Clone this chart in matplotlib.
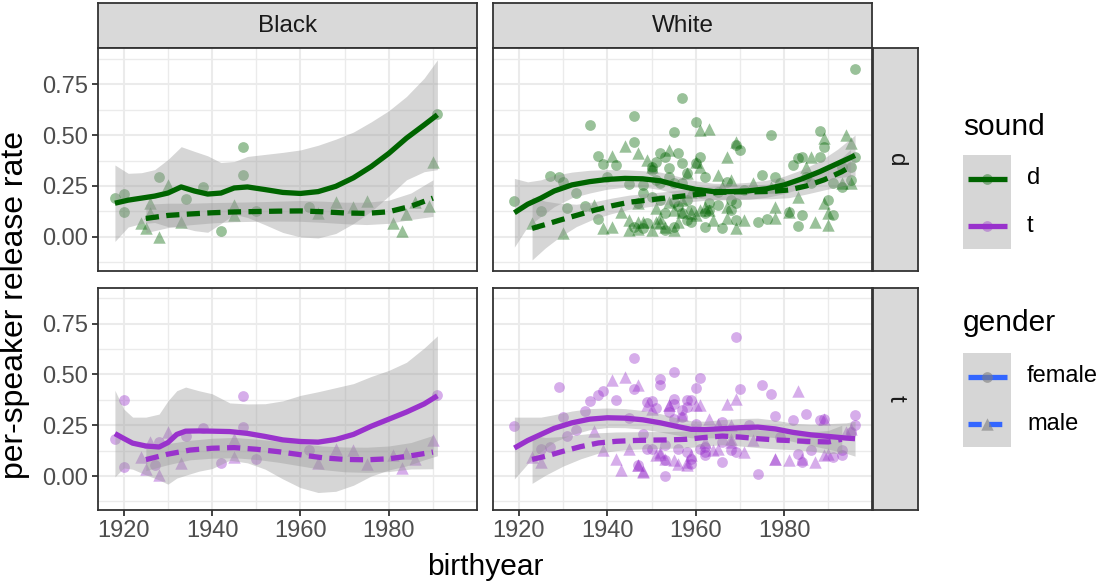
import matplotlib
matplotlib.use("Agg")
import matplotlib.pyplot as plt
import numpy as np

plt.rcParams['font.family'] = ['Liberation Sans', 'DejaVu Sans']

races = ["Black", "White"]
sounds = ["d", "t"]
genders = ["female", "male"]
sound_colors = {"d": "#006400", "t": "#9932CC"}
x_ticks = [1920, 1940, 1960, 1980]
y_ticks = [0.00, 0.25, 0.50, 0.75]

# per-speaker points
black_d_female_year = [1918, 1920, 1920, 1928, 1934, 1938, 1942, 1947, 1947, 1950, 1962, 1991]
black_d_female_rate = [0.189, 0.210, 0.123, 0.295, 0.184, 0.246, 0.028, 0.440, 0.304, 0.126, 0.148, 0.604]
black_d_male_year = [1924, 1925, 1926, 1926, 1928, 1930, 1933, 1945, 1945, 1964, 1968, 1972, 1975, 1981, 1983, 1984, 1986, 1989, 1990]
black_d_male_rate = [0.069, 0.041, 0.164, 0.115, 0.000, 0.254, 0.074, 0.156, 0.107, 0.118, 0.169, 0.145, 0.177, 0.066, 0.028, 0.112, 0.169, 0.151, 0.369]

black_t_female_year = [1918, 1920, 1920, 1928, 1927, 1934, 1938, 1942, 1947, 1947, 1950, 1962, 1991]
black_t_female_rate = [0.184, 0.373, 0.044, 0.167, 0.053, 0.197, 0.236, 0.064, 0.394, 0.241, 0.086, 0.126, 0.397]
black_t_male_year = [1924, 1925, 1926, 1928, 1930, 1933, 1945, 1945, 1964, 1968, 1972, 1975, 1981, 1983, 1984, 1986, 1990]
black_t_male_rate = [0.094, 0.036, 0.167, 0.007, 0.217, 0.066, 0.181, 0.094, 0.066, 0.135, 0.126, 0.061, 0.102, 0.039, 0.115, 0.086, 0.176]

white_d_female_year = [1919, 1925, 1927, 1929, 1930, 1931, 1933, 1935, 1936, 1938, 1938, 1939, 1940, 1942, 1945, 1946, 1946, 1947, 1948, 1949,
                       1950, 1950, 1951, 1952, 1952, 1953, 1953, 1954, 1955, 1955, 1955, 1956, 1956, 1957, 1957, 1957, 1958, 1958, 1959, 1959,
                       1960, 1960, 1961, 1961, 1962, 1962, 1963, 1965, 1966, 1967, 1968, 1969, 1969, 1970, 1971, 1974, 1975, 1976, 1977, 1978,
                       1979, 1981, 1982, 1983, 1983, 1984, 1984, 1985, 1986, 1988, 1988, 1989, 1990, 1991, 1991, 1993, 1993, 1995, 1995, 1996, 1996,
                       1951, 1950, 1954, 1952, 1948, 1955, 1957, 1958, 1953, 1948, 1946, 1962, 1968, 1969, 1965, 1963]
white_d_female_rate = [0.177, 0.128, 0.299, 0.292, 0.271, 0.139, 0.217, 0.151, 0.548, 0.397, 0.085, 0.358, 0.296, 0.353, 0.259, 0.594, 0.468, 0.164, 0.213, 0.066,
                       0.328, 0.197, 0.279, 0.410, 0.181, 0.394, 0.115, 0.337, 0.263, 0.517, 0.049, 0.151, 0.413, 0.361, 0.681, 0.263, 0.312, 0.181, 0.131, 0.074,
                       0.566, 0.364, 0.222, 0.394, 0.296, 0.115, 0.164, 0.222, 0.041, 0.271, 0.181, 0.164, 0.451, 0.427, 0.230, 0.074, 0.304, 0.085, 0.501, 0.296,
                       0.263, 0.123, 0.353, 0.386, 0.053, 0.107, 0.394, 0.296, 0.263, 0.522, 0.394, 0.443, 0.181, 0.107, 0.263, 0.246, 0.345, 0.279, 0.345, 0.827, 0.394,
                       0.369, 0.345, 0.295, 0.262, 0.254, 0.172, 0.115, 0.082, 0.033, 0.041, 0.049, 0.049, 0.131, 0.082, 0.156, 0.131]
white_d_male_year = [1923, 1930, 1937, 1939, 1941, 1941, 1943, 1944, 1945, 1945, 1947, 1947, 1948, 1949, 1950, 1951, 1951, 1952, 1953, 1954,
                     1954, 1955, 1956, 1957, 1957, 1958, 1959, 1959, 1961, 1961, 1962, 1963, 1963, 1964, 1965, 1966, 1967, 1967, 1968, 1969,
                     1969, 1971, 1973, 1977, 1978, 1978, 1981, 1983, 1985, 1986, 1987, 1989, 1989, 1990, 1990, 1993, 1994, 1995, 1995,
                     1960, 1947, 1947, 1952, 1950, 1955, 1960, 1961, 1967]
white_d_male_rate = [0.066, 0.020, 0.156, 0.041, 0.049, 0.397, 0.123, 0.446, 0.082, 0.033, 0.036, 0.410, 0.074, 0.377, 0.345, 0.074, 0.139, 0.069, 0.049, 0.427,
                     0.172, 0.033, 0.074, 0.181, 0.123, 0.312, 0.115, 0.222, 0.525, 0.345, 0.148, 0.528, 0.131, 0.082, 0.304, 0.246, 0.391, 0.148, 0.279, 0.468,
                     0.041, 0.082, 0.263, 0.246, 0.148, 0.090, 0.123, 0.197, 0.345, 0.394, 0.074, 0.484, 0.164, 0.115, 0.058, 0.263, 0.501, 0.459, 0.263,
                     0.369, 0.164, 0.074, 0.090, 0.033, 0.131, 0.107, 0.131, 0.090]

white_t_female_year = [1919, 1925, 1927, 1929, 1930, 1931, 1933, 1935, 1936, 1938, 1939, 1942, 1945, 1946, 1946, 1947, 1948, 1949, 1950, 1950,
                       1951, 1952, 1952, 1953, 1953, 1954, 1955, 1955, 1956, 1957, 1957, 1958, 1959, 1960, 1960, 1961, 1961, 1962, 1962, 1966,
                       1966, 1968, 1969, 1970, 1972, 1974, 1975, 1977, 1978, 1979, 1982, 1983, 1984, 1985, 1986, 1988, 1989, 1991, 1993, 1993,
                       1995, 1996, 1996,
                       1955, 1958, 1959, 1955, 1953, 1949, 1958, 1959, 1962, 1969, 1966]
white_t_female_rate = [0.245, 0.135, 0.143, 0.438, 0.290, 0.197, 0.225, 0.318, 0.367, 0.400, 0.417, 0.376, 0.286, 0.581, 0.427, 0.053, 0.209, 0.364, 0.135, 0.367,
                       0.335, 0.479, 0.446, 0.077, 0.000, 0.315, 0.512, 0.356, 0.131, 0.323, 0.290, 0.373, 0.061, 0.433, 0.258, 0.135, 0.482, 0.102, 0.143, 0.069,
                       0.266, 0.126, 0.684, 0.427, 0.250, 0.012, 0.450, 0.405, 0.294, 0.192, 0.274, 0.110, 0.069, 0.307, 0.126, 0.274, 0.282, 0.094, 0.102, 0.126,
                       0.217, 0.299, 0.250,
                       0.381, 0.340, 0.372, 0.282, 0.151, 0.135, 0.118, 0.086, 0.118, 0.118, 0.167]
white_t_male_year = [1923, 1925, 1937, 1939, 1941, 1942, 1943, 1944, 1945, 1947, 1947, 1948, 1950, 1952, 1953, 1954, 1955, 1956, 1958, 1959,
                     1961, 1962, 1963, 1964, 1965, 1967, 1968, 1969, 1971, 1973, 1978, 1981, 1983, 1987, 1989, 1989, 1990, 1994, 1995,
                     1949, 1954, 1957, 1960, 1951, 1952, 1958, 1947, 1948, 1968, 1965, 1968, 1978, 1984]
white_t_male_rate = [0.094, 0.069, 0.220, 0.126, 0.471, 0.085, 0.028, 0.487, 0.135, 0.450, 0.053, 0.023, 0.331, 0.110, 0.085, 0.351, 0.077, 0.061, 0.053, 0.102,
                     0.348, 0.167, 0.282, 0.126, 0.258, 0.356, 0.250, 0.381, 0.118, 0.176, 0.085, 0.077, 0.417, 0.069, 0.282, 0.102, 0.110, 0.217, 0.233,
                     0.348, 0.348, 0.299, 0.348, 0.102, 0.118, 0.069, 0.053, 0.020, 0.167, 0.135, 0.184, 0.086, 0.085]

# smoothed fits (loess) with confidence band
black_d_female_sm_year = [1918, 1921, 1924, 1927, 1930, 1933, 1936, 1939, 1942, 1945, 1948, 1952, 1956, 1960, 1964, 1968, 1972, 1976, 1980, 1984, 1988, 1991]
black_d_female_fit = [0.165, 0.180, 0.190, 0.200, 0.215, 0.245, 0.225, 0.210, 0.215, 0.240, 0.245, 0.232, 0.218, 0.213, 0.222, 0.248, 0.290, 0.345, 0.410, 0.485, 0.550, 0.600]
black_d_female_lo = [-0.023, 0.048, 0.065, 0.070, 0.050, 0.047, 0.030, 0.022, 0.065, 0.110, 0.095, 0.059, 0.021, -0.001, -0.006, 0.016, 0.065, 0.125, 0.200, 0.280, 0.320, 0.330]
black_d_female_hi = [0.353, 0.312, 0.315, 0.330, 0.380, 0.443, 0.420, 0.398, 0.365, 0.370, 0.395, 0.405, 0.415, 0.427, 0.450, 0.480, 0.515, 0.565, 0.620, 0.690, 0.780, 0.870]
black_d_male_sm_year = [1925, 1930, 1935, 1940, 1945, 1950, 1955, 1960, 1965, 1970, 1975, 1980, 1985, 1990]
black_d_male_fit = [0.090, 0.105, 0.112, 0.118, 0.122, 0.124, 0.126, 0.127, 0.123, 0.117, 0.115, 0.123, 0.150, 0.190]
black_d_male_lo = [0.020, 0.045, 0.059, 0.068, 0.074, 0.076, 0.077, 0.076, 0.071, 0.064, 0.060, 0.066, 0.085, 0.100]
black_d_male_hi = [0.160, 0.165, 0.165, 0.168, 0.170, 0.172, 0.175, 0.178, 0.175, 0.170, 0.170, 0.180, 0.215, 0.280]

black_t_female_sm_year = [1918, 1920, 1922, 1925, 1928, 1930, 1932, 1934, 1937, 1940, 1944, 1948, 1952, 1956, 1960, 1964, 1968, 1972, 1976, 1980, 1984, 1988, 1991]
black_t_female_fit = [0.209, 0.185, 0.162, 0.148, 0.143, 0.165, 0.205, 0.221, 0.222, 0.221, 0.219, 0.210, 0.195, 0.178, 0.170, 0.167, 0.180, 0.205, 0.245, 0.280, 0.315, 0.355, 0.395]
black_t_female_lo = [-0.004, 0.040, 0.034, 0.006, -0.019, -0.040, -0.010, 0.004, 0.024, 0.037, 0.078, 0.065, 0.034, -0.014, -0.057, -0.081, -0.075, -0.045, 0.000, 0.030, 0.050, 0.080, 0.100]
black_t_female_hi = [0.422, 0.330, 0.290, 0.290, 0.305, 0.370, 0.420, 0.438, 0.420, 0.405, 0.360, 0.355, 0.356, 0.370, 0.397, 0.415, 0.435, 0.455, 0.490, 0.520, 0.560, 0.630, 0.690]
black_t_male_sm_year = [1925, 1930, 1935, 1940, 1945, 1950, 1955, 1960, 1965, 1970, 1975, 1980, 1985, 1990]
black_t_male_fit = [0.081, 0.108, 0.128, 0.137, 0.140, 0.132, 0.120, 0.105, 0.090, 0.082, 0.080, 0.085, 0.100, 0.118]
black_t_male_lo = [0.027, 0.056, 0.080, 0.088, 0.090, 0.082, 0.068, 0.050, 0.032, 0.021, 0.018, 0.022, 0.035, 0.036]
black_t_male_hi = [0.135, 0.160, 0.176, 0.186, 0.190, 0.182, 0.172, 0.160, 0.148, 0.143, 0.142, 0.148, 0.165, 0.200]

white_d_female_sm_year = [1919, 1922, 1925, 1928, 1932, 1936, 1940, 1944, 1948, 1952, 1956, 1960, 1964, 1968, 1972, 1976, 1980, 1984, 1988, 1992, 1996]
white_d_female_fit = [0.118, 0.160, 0.190, 0.225, 0.255, 0.271, 0.282, 0.287, 0.285, 0.275, 0.252, 0.233, 0.222, 0.222, 0.226, 0.236, 0.255, 0.285, 0.320, 0.360, 0.400]
white_d_female_lo = [-0.051, 0.050, 0.100, 0.148, 0.192, 0.215, 0.234, 0.244, 0.245, 0.232, 0.207, 0.191, 0.181, 0.182, 0.184, 0.194, 0.212, 0.240, 0.268, 0.290, 0.300]
white_d_female_hi = [0.287, 0.270, 0.280, 0.302, 0.318, 0.327, 0.330, 0.330, 0.325, 0.318, 0.297, 0.275, 0.263, 0.262, 0.268, 0.278, 0.298, 0.330, 0.372, 0.430, 0.500]
white_d_male_sm_year = [1923, 1926, 1929, 1933, 1937, 1941, 1945, 1949, 1953, 1957, 1961, 1965, 1969, 1973, 1977, 1981, 1985, 1989, 1993, 1995]
white_d_male_fit = [0.041, 0.060, 0.080, 0.105, 0.130, 0.152, 0.170, 0.180, 0.190, 0.200, 0.210, 0.218, 0.221, 0.221, 0.223, 0.230, 0.250, 0.280, 0.320, 0.345]
white_d_male_lo = [-0.114, -0.055, -0.005, 0.050, 0.088, 0.114, 0.135, 0.147, 0.158, 0.168, 0.177, 0.184, 0.186, 0.186, 0.187, 0.192, 0.210, 0.230, 0.250, 0.260]
white_d_male_hi = [0.196, 0.175, 0.165, 0.160, 0.172, 0.190, 0.205, 0.213, 0.222, 0.232, 0.243, 0.252, 0.256, 0.256, 0.259, 0.268, 0.290, 0.330, 0.390, 0.430]

white_t_female_sm_year = [1919, 1922, 1925, 1928, 1932, 1936, 1940, 1944, 1948, 1952, 1956, 1959, 1962, 1966, 1970, 1974, 1978, 1982, 1986, 1990, 1994, 1996]
white_t_female_fit = [0.138, 0.175, 0.205, 0.235, 0.262, 0.280, 0.287, 0.285, 0.277, 0.262, 0.243, 0.230, 0.229, 0.233, 0.238, 0.241, 0.232, 0.215, 0.203, 0.195, 0.187, 0.184]
white_t_female_lo = [-0.014, 0.060, 0.120, 0.168, 0.204, 0.228, 0.239, 0.238, 0.231, 0.217, 0.201, 0.188, 0.188, 0.188, 0.193, 0.197, 0.189, 0.170, 0.151, 0.132, 0.112, 0.098]
white_t_female_hi = [0.290, 0.290, 0.290, 0.302, 0.320, 0.332, 0.335, 0.332, 0.323, 0.307, 0.285, 0.272, 0.270, 0.278, 0.283, 0.285, 0.275, 0.260, 0.255, 0.258, 0.262, 0.270]
white_t_male_sm_year = [1923, 1926, 1930, 1934, 1938, 1942, 1946, 1950, 1954, 1958, 1962, 1966, 1970, 1974, 1978, 1982, 1986, 1990, 1993]
white_t_male_fit = [0.082, 0.097, 0.122, 0.145, 0.163, 0.171, 0.175, 0.177, 0.178, 0.181, 0.190, 0.197, 0.192, 0.184, 0.178, 0.174, 0.170, 0.168, 0.181]
white_t_male_lo = [-0.036, 0.004, 0.049, 0.085, 0.113, 0.125, 0.132, 0.135, 0.137, 0.140, 0.148, 0.154, 0.148, 0.140, 0.134, 0.130, 0.123, 0.111, 0.112]
white_t_male_hi = [0.200, 0.190, 0.195, 0.205, 0.213, 0.217, 0.218, 0.219, 0.219, 0.222, 0.232, 0.240, 0.236, 0.228, 0.222, 0.218, 0.217, 0.225, 0.250]

points = {
	("Black", "d", "female"): (black_d_female_year, black_d_female_rate),
	("Black", "d", "male"): (black_d_male_year, black_d_male_rate),
	("Black", "t", "female"): (black_t_female_year, black_t_female_rate),
	("Black", "t", "male"): (black_t_male_year, black_t_male_rate),
	("White", "d", "female"): (white_d_female_year, white_d_female_rate),
	("White", "d", "male"): (white_d_male_year, white_d_male_rate),
	("White", "t", "female"): (white_t_female_year, white_t_female_rate),
	("White", "t", "male"): (white_t_male_year, white_t_male_rate),
}
smooths = {
	("Black", "d", "female"): (black_d_female_sm_year, black_d_female_fit, black_d_female_lo, black_d_female_hi),
	("Black", "d", "male"): (black_d_male_sm_year, black_d_male_fit, black_d_male_lo, black_d_male_hi),
	("Black", "t", "female"): (black_t_female_sm_year, black_t_female_fit, black_t_female_lo, black_t_female_hi),
	("Black", "t", "male"): (black_t_male_sm_year, black_t_male_fit, black_t_male_lo, black_t_male_hi),
	("White", "d", "female"): (white_d_female_sm_year, white_d_female_fit, white_d_female_lo, white_d_female_hi),
	("White", "d", "male"): (white_d_male_sm_year, white_d_male_fit, white_d_male_lo, white_d_male_hi),
	("White", "t", "female"): (white_t_female_sm_year, white_t_female_fit, white_t_female_lo, white_t_female_hi),
	("White", "t", "male"): (white_t_male_sm_year, white_t_male_fit, white_t_male_lo, white_t_male_hi),
}

markers = {"female": "o", "male": "^"}
msizes = {"female": 60, "male": 80}
dash = {"female": None, "male": (2.5, 1.4)}

W, H = 1100, 584
fig = plt.figure(figsize=(11, 5.84), dpi=100)

def px_axes(x0, y0, x1, y1):
	return fig.add_axes([x0 / W, 1 - y1 / H, (x1 - x0) / W, (y1 - y0) / H])

col_px = [(97.7, 476.7), (492.7, 872.3)]
row_px = [(48.3, 270.7), (287.7, 510.0)]
border = "#333333"

for j, race in enumerate(races):
	s = px_axes(col_px[j][0], 2.7, col_px[j][1], row_px[0][0])
	s.set_facecolor("#D9D9D9")
	s.set_xticks([]); s.set_yticks([])
	for sp in s.spines.values():
		sp.set_color(border); sp.set_linewidth(1.3)
	s.text(0.5, 0.5, race, ha="center", va="center", fontsize=17.5, color="#1A1A1A", transform=s.transAxes)

for i, snd in enumerate(sounds):
	s = px_axes(873.3, row_px[i][0], 918.3, row_px[i][1])
	s.set_facecolor("#D9D9D9")
	s.set_xticks([]); s.set_yticks([])
	for sp in s.spines.values():
		sp.set_color(border); sp.set_linewidth(1.3)
	s.text(0.5, 0.5, snd, ha="center", va="center", fontsize=17.5, color="#1A1A1A", rotation=-90, transform=s.transAxes)

	for j, race in enumerate(races):
		ax = px_axes(col_px[j][0], row_px[i][0], col_px[j][1], row_px[i][1])
		ax.set_xlim(1914.1, 1999.9)
		ax.set_ylim(-0.167, 0.927)
		ax.set_xticks(x_ticks)
		ax.set_xticks([1930, 1950, 1970, 1990], minor=True)
		ax.set_yticks(y_ticks)
		ax.set_yticks([-0.125, 0.125, 0.375, 0.625, 0.875], minor=True)
		ax.grid(True, which="major", color="#EBEBEB", lw=1.5)
		ax.grid(True, which="minor", color="#EBEBEB", lw=1.0)
		ax.set_axisbelow(True)
		for sp in ax.spines.values():
			sp.set_color(border); sp.set_linewidth(1.3)
		ax.tick_params(which="minor", length=0)
		ax.tick_params(which="major", length=4, width=1.3, color=border, labelsize=17, labelcolor="#4D4D4D", pad=3)
		if i == 1:
			ax.set_xticklabels([str(t) for t in x_ticks])
		else:
			ax.tick_params(axis="x", length=0, labelbottom=False)
		if j == 0:
			ax.set_yticklabels(["%.2f" % t for t in y_ticks])
		else:
			ax.tick_params(axis="y", length=0, labelleft=False)

		col = sound_colors[snd]
		for g in genders:
			xs, ys = points[(race, snd, g)]
			ax.scatter(xs, ys, s=msizes[g], marker=markers[g], color=col, alpha=0.4, linewidths=0, zorder=2)
		for g in genders:
			yr, fit, lo, hi = smooths[(race, snd, g)]
			ax.fill_between(yr, lo, hi, color="#999999", alpha=0.4, lw=0, zorder=3)
			ln, = ax.plot(yr, fit, color=col, lw=3.8, solid_capstyle="butt", zorder=4)
			if dash[g] is not None:
				ln.set_dashes(dash[g])
				ln.set_dash_capstyle("butt")

fig.text(485 / W, 1 - 575 / H, "birthyear", ha="center", va="baseline", fontsize=21.5)
fig.text(15 / W, 1 - 305 / H, "per-speaker release rate", ha="center", va="center", rotation=90, fontsize=23)

# legends
fig.text(963 / W, 1 - 127 / H, "sound", ha="left", va="center", fontsize=21.5)
fig.text(963 / W, 1 - 323 / H, "gender", ha="left", va="center", fontsize=21.5)

lg = px_axes(963, 155, 1011, 249)
lg.set_xlim(0, 1); lg.set_ylim(0, 2)
lg.set_facecolor("#D6D6D6")
lg.set_xticks([]); lg.set_yticks([])
for sp in lg.spines.values():
	sp.set_visible(False)
for k, snd in enumerate(sounds):
	yk = 1.5 - k
	lg.plot([0.1, 0.92], [yk, yk], color=sound_colors[snd], lw=3.8, solid_capstyle="butt")
	lg.scatter([0.51], [yk], s=60, marker="o", color=sound_colors[snd], alpha=0.4, linewidths=0, zorder=3)
	fig.text(1027 / W, 1 - (178.5 + 47 * k) / H, snd, ha="left", va="center", fontsize=17)

lg2 = px_axes(963, 353, 1011, 447)
lg2.set_xlim(0, 1); lg2.set_ylim(0, 2)
lg2.set_facecolor("#D6D6D6")
lg2.set_xticks([]); lg2.set_yticks([])
for sp in lg2.spines.values():
	sp.set_visible(False)
for k, g in enumerate(genders):
	yk = 1.5 - k
	ln, = lg2.plot([0.1, 0.92], [yk, yk], color="#3366FF", lw=3.8, solid_capstyle="butt")
	if dash[g] is not None:
		ln.set_dashes(dash[g])
		ln.set_dash_capstyle("butt")
	lg2.scatter([0.51], [yk], s=msizes[g], marker=markers[g], color="#7F7F7F", alpha=0.6, linewidths=0, zorder=3)
	fig.text(1027 / W, 1 - (376.5 + 47 * k) / H, g, ha="left", va="center", fontsize=17)

fig.savefig("out.png", dpi=100)
